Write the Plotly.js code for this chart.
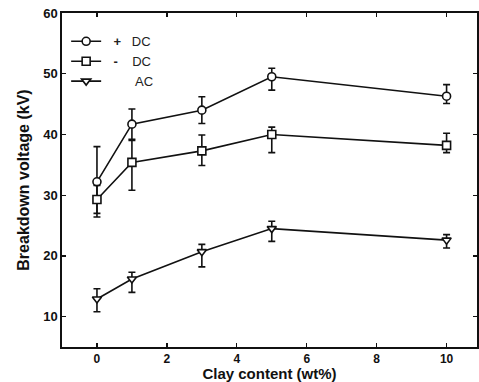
<!DOCTYPE html>
<html>
<head>
<meta charset="utf-8">
<script src="https://cdn.plot.ly/plotly-3.0.1.min.js"></script>
<style>html,body{margin:0;padding:0;background:#fff;}#chart{width:479px;height:382px;}</style>
</head>
<body>
<div id="chart"></div>
<script>
const clay = [0, 1, 3, 5, 10];
const posDC = [32.2, 41.7, 44.0, 49.5, 46.3];
const posDCerrPlus = [5.8, 2.5, 2.2, 1.4, 1.9];
const posDCerrMinus = [5.8, 2.5, 2.2, 2.2, 1.2];
const negDC = [29.3, 35.4, 37.3, 40.0, 38.2];
const negDCerrPlus = [2.3, 3.6, 2.6, 1.2, 2.0];
const negDCerrMinus = [2.3, 4.6, 2.4, 3.0, 1.2];
const ac = [12.9, 16.2, 20.7, 24.5, 22.6];
const acErrPlus = [1.7, 1.1, 1.2, 1.2, 0.9];
const acErrMinus = [2.1, 2.2, 2.5, 2.1, 1.3];
const names = ["\u00A0\u00A0<b>+</b>\u00A0\u00A0\u00A0DC", "\u00A0\u00A0<b>-</b>\u00A0\u00A0\u00A0\u00A0DC", "\u00A0\u00A0\u00A0\u00A0\u00A0\u00A0\u00A0\u00A0AC"];

function trace(y, ep, em, sym, name) {
  return {
    x: clay, y: y, name: name, type: 'scatter', mode: 'lines+markers',
    line: {color: '#111', width: 1.6},
    marker: {symbol: sym, size: 8, color: '#ffffff', line: {color: '#111', width: 1.6}},
    error_y: {type: 'data', symmetric: false, array: ep, arrayminus: em, color: '#111', thickness: 1.6, width: 3.5}
  };
}

const data = [
  trace(posDC, posDCerrPlus, posDCerrMinus, 'circle', names[0]),
  trace(negDC, negDCerrPlus, negDCerrMinus, 'square', names[1]),
  trace(ac, acErrPlus, acErrMinus, 'triangle-down', names[2])
];

const layout = {
  width: 479, height: 382,
  margin: {l: 62, r: 2, t: 13, b: 35},
  paper_bgcolor: '#fff', plot_bgcolor: '#fff',
  font: {family: 'Liberation Sans, Arial, sans-serif', color: '#111'},
  showlegend: true,
  legend: {x: 0.01, y: 0.96, xanchor: 'left', yanchor: 'top', bgcolor: 'rgba(0,0,0,0)',
           font: {size: 13, color: '#222'}, tracegroupgap: 0, itemwidth: 30},
  xaxis: {
    range: [-1, 10.87], tickvals: [0, 2, 4, 6, 8, 10], ticktext: ['0','2','4','6','8','10'],
    ticks: 'inside', ticklen: 4, tickwidth: 1.3, tickcolor: '#111',
    showline: true, linecolor: '#111', linewidth: 1.6, mirror: 'ticks',
    showgrid: false, zeroline: false,
    tickfont: {size: 12, family: 'Liberation Sans, Arial, sans-serif', weight: 'bold'},
    title: {text: '<b>Clay content (wt%)</b>', font: {size: 15}, standoff: 3}
  },
  yaxis: {
    range: [5, 60], tickvals: [10, 20, 30, 40, 50, 60], ticktext: ['10','20','30','40','50','60'],
    ticks: 'inside', ticklen: 4, tickwidth: 1.3, tickcolor: '#111',
    showline: true, linecolor: '#111', linewidth: 1.6, mirror: 'ticks',
    showgrid: false, zeroline: false,
    tickfont: {size: 13, family: 'Liberation Sans, Arial, sans-serif', weight: 'bold'},
    title: {text: '<b>Breakdown voltage (kV)</b>', font: {size: 16}, standoff: 10}
  }
};

Plotly.newPlot('chart', data, layout, {staticPlot: true, displayModeBar: false});
</script>
</body>
</html>
